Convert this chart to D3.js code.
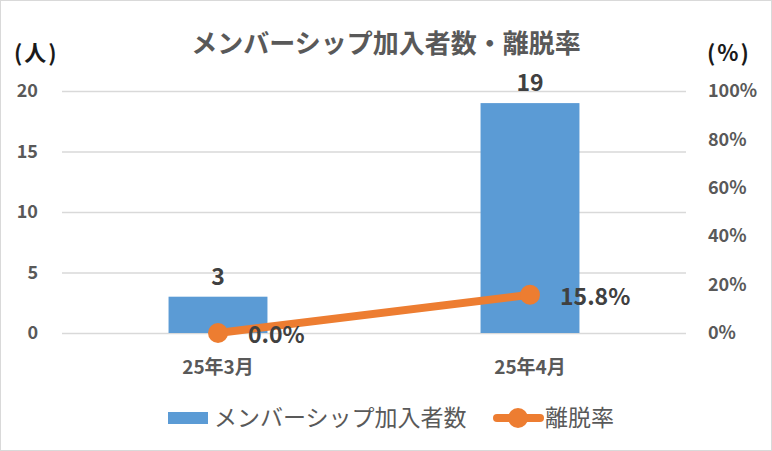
<!DOCTYPE html>
<html>
<head>
<meta charset="utf-8">
<script src="https://cdn.jsdelivr.net/npm/d3@7"></script>
<style>
  html, body { margin: 0; padding: 0; background: #fff; }
  #chart { width: 772px; height: 451px; }
  svg text { font-family: "Noto Sans CJK JP", "Noto Sans", sans-serif; }
</style>
</head>
<body>
<div id="chart"></div>
<script>
// data
const months = ["25年3月", "25年4月"];
const members = [3, 19];          // 人
const churnRate = [0.0, 15.8];    // %
const leftTicks = [0, 5, 10, 15, 20];
const rightTicks = [0, 20, 40, 60, 80, 100];

const BAR_COLOR = "#5b9bd5";
const LINE_COLOR = "#ed7d31";

const width = 772, height = 451;
const m = { top: 91, right: 86, bottom: 118, left: 62 };

const svg = d3.select("#chart").append("svg")
  .attr("width", width)
  .attr("height", height)
  .attr("viewBox", [0, 0, width, height]);

// outer frame
svg.append("rect")
  .attr("x", 0.5).attr("y", 0.5)
  .attr("width", width - 1).attr("height", height - 1)
  .attr("fill", "#fff")
  .attr("stroke", "#d9d9d9");

const x = d3.scaleBand()
  .domain(months)
  .range([m.left, width - m.right])
  .padding(0);

const yL = d3.scaleLinear().domain([0, 20]).range([height - m.bottom, m.top]);
const yR = d3.scaleLinear().domain([0, 100]).range([height - m.bottom, m.top]);

// gridlines + left axis labels
const leftAxis = svg.append("g")
  .attr("transform", `translate(${m.left},0)`)
  .call(d3.axisLeft(yL)
    .tickValues(leftTicks)
    .tickSize(-(width - m.left - m.right))
    .tickPadding(24));
leftAxis.select(".domain").remove();
leftAxis.selectAll(".tick line").attr("stroke", "#d9d9d9").attr("stroke-width", 1.5);
leftAxis.selectAll(".tick text")
  .attr("fill", "#595959")
  .attr("font-size", 18)
  .attr("font-weight", 600);

// right axis labels
const rightAxis = svg.append("g")
  .attr("transform", `translate(${width - m.right},0)`)
  .call(d3.axisRight(yR)
    .tickValues(rightTicks)
    .tickFormat(d => d + "%")
    .tickSize(0)
    .tickPadding(22));
rightAxis.select(".domain").remove();
rightAxis.selectAll(".tick text")
  .attr("fill", "#595959")
  .attr("font-size", 18)
  .attr("font-weight", 600);

// category labels
svg.append("g").selectAll("text")
  .data(months)
  .join("text")
  .attr("x", d => x(d) + x.bandwidth() / 2)
  .attr("y", 374)
  .attr("text-anchor", "middle")
  .attr("fill", "#595959")
  .attr("font-size", 19)
  .attr("font-weight", 600)
  .text(d => d);

// bars
const barW = x.bandwidth() * 0.317;
const barData = months.map((d, i) => ({ month: d, value: members[i] }));

svg.append("g").selectAll("rect")
  .data(barData)
  .join("rect")
  .attr("x", d => x(d.month) + (x.bandwidth() - barW) / 2)
  .attr("y", d => yL(d.value))
  .attr("width", barW)
  .attr("height", d => yL(0) - yL(d.value))
  .attr("fill", BAR_COLOR);

svg.append("g").selectAll("text")
  .data(barData)
  .join("text")
  .attr("x", d => x(d.month) + x.bandwidth() / 2)
  .attr("y", d => yL(d.value) - 12)
  .attr("text-anchor", "middle")
  .attr("fill", "#404040")
  .attr("font-size", 23)
  .attr("font-weight", 700)
  .text(d => d.value);

// line
const lineData = months.map((d, i) => ({ month: d, value: churnRate[i] }));
const cx = d => x(d.month) + x.bandwidth() / 2;

svg.append("path")
  .datum(lineData)
  .attr("fill", "none")
  .attr("stroke", LINE_COLOR)
  .attr("stroke-width", 8)
  .attr("stroke-linecap", "round")
  .attr("d", d3.line().x(cx).y(d => yR(d.value)));

svg.append("g").selectAll("circle")
  .data(lineData)
  .join("circle")
  .attr("cx", cx)
  .attr("cy", d => yR(d.value))
  .attr("r", 10)
  .attr("fill", LINE_COLOR);

svg.append("g").selectAll("text")
  .data(lineData)
  .join("text")
  .attr("x", d => cx(d) + 30)
  .attr("y", d => yR(d.value) + 10)
  .attr("fill", "#404040")
  .attr("font-size", 23)
  .attr("font-weight", 700)
  .text(d => d.value.toFixed(1) + "%");

// title and axis unit labels
svg.append("text")
  .attr("x", 386)
  .attr("y", 53)
  .attr("text-anchor", "middle")
  .attr("fill", "#595959")
  .attr("font-size", 26)
  .attr("font-weight", 700)
  .text("メンバーシップ加入者数・離脱率");

svg.append("text")
  .attr("x", 14)
  .attr("y", 61)
  .attr("fill", "#1a1a1a")
  .attr("font-size", 22)
  .attr("font-weight", 700)
  .attr("letter-spacing", 2)
  .text("(人)");

svg.append("text")
  .attr("x", 707)
  .attr("y", 61)
  .attr("fill", "#1a1a1a")
  .attr("font-size", 22)
  .attr("font-weight", 700)
  .attr("letter-spacing", 2)
  .text("(%)");

// legend
const legend = svg.append("g");
legend.append("rect")
  .attr("x", 168).attr("y", 412)
  .attr("width", 40).attr("height", 12)
  .attr("fill", BAR_COLOR);
legend.append("text")
  .attr("x", 214).attr("y", 426)
  .attr("fill", "#595959")
  .attr("font-size", 23)
  .text("メンバーシップ加入者数");

legend.append("line")
  .attr("x1", 497).attr("x2", 540)
  .attr("y1", 418).attr("y2", 418)
  .attr("stroke", LINE_COLOR)
  .attr("stroke-width", 8)
  .attr("stroke-linecap", "round");
legend.append("circle")
  .attr("cx", 518).attr("cy", 418).attr("r", 10)
  .attr("fill", LINE_COLOR);
legend.append("text")
  .attr("x", 545).attr("y", 426)
  .attr("fill", "#595959")
  .attr("font-size", 23)
  .text("離脱率");
</script>
</body>
</html>
